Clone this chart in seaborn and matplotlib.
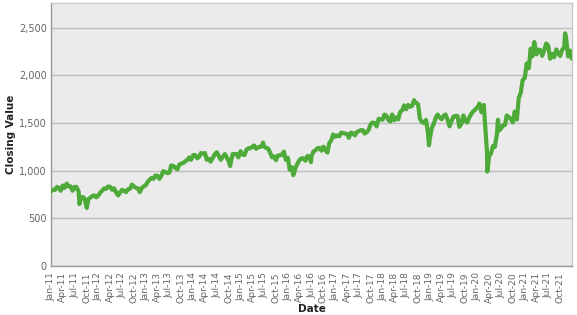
import numpy as np
import pandas as pd
import matplotlib
matplotlib.use("Agg")
import matplotlib.pyplot as plt
import matplotlib.dates as mdates
import matplotlib.ticker as mticker
import seaborn as sns

# Semi-monthly readings (1st and 15th of each month), Jan 2011 - Dec 2021
grid_start = "2011-01-01"
grid_end = "2021-12-15"
grid_values = [
    # 2011
    784, 800, 800, 830, 820, 790, 845, 820, 865, 835, 835, 790,
    830, 830, 780, 700, 725, 710, 620, 700, 720, 735, 740, 720,
    # 2012
    741, 770, 795, 815, 810, 835, 830, 800, 815, 775, 740, 770,
    800, 790, 775, 805, 810, 855, 835, 820, 815, 775, 820, 835,
    # 2013
    849, 885, 910, 925, 915, 950, 945, 915, 950, 995, 985, 975,
    980, 1055, 1050, 1030, 1015, 1065, 1075, 1080, 1100, 1110, 1140, 1115,
    # 2014
    1164, 1165, 1130, 1145, 1185, 1180, 1185, 1115, 1125, 1095, 1135, 1170,
    1195, 1160, 1115, 1140, 1175, 1145, 1100, 1070, 1175, 1175, 1175, 1140,
    # 2015
    1205, 1170, 1165, 1220, 1235, 1235, 1250, 1265, 1230, 1245, 1250, 1260,
    1255, 1240, 1235, 1195, 1140, 1150, 1110, 1160, 1162, 1165, 1200, 1115,
    # 2016
    1136, 1010, 1035, 965, 1035, 1075, 1115, 1130, 1130, 1105, 1155, 1145,
    1150, 1200, 1215, 1235, 1240, 1210, 1252, 1215, 1190, 1290, 1320, 1380,
    # 2017
    1357, 1370, 1362, 1400, 1395, 1390, 1385, 1345, 1400, 1395, 1370, 1405,
    1415, 1425, 1425, 1390, 1405, 1430, 1490, 1505, 1500, 1465, 1545, 1540,
    # 2018
    1536, 1590, 1575, 1530, 1515, 1590, 1530, 1560, 1540, 1615, 1635, 1685,
    1645, 1690, 1670, 1680, 1720, 1715, 1696, 1545, 1510, 1500, 1533, 1410,
    # 2019
    1349, 1450, 1500, 1560, 1590, 1560, 1540, 1575, 1590, 1540, 1466, 1520,
    1567, 1575, 1575, 1460, 1495, 1580, 1523, 1505, 1562, 1595, 1624, 1640,
    # 2020
    1668, 1690, 1614, 1685, 1476, 1210, 1153, 1180, 1260, 1250, 1394, 1420,
    1441, 1475, 1480, 1580, 1561, 1545, 1507, 1620, 1538, 1760, 1820, 1950,
    # 2021
    1975, 2125, 2075, 2280, 2201, 2350, 2221, 2270, 2266, 2205, 2269, 2335,
    2311, 2175, 2226, 2190, 2273, 2230, 2204, 2265, 2297, 2400, 2199, 2260,
]

# Extra readings at notable highs and lows
extra_dates = [
    "2011-08-08", "2011-10-03", "2014-10-13", "2015-06-23", "2016-02-11",
    "2016-06-27", "2018-08-31", "2018-12-24", "2020-01-16", "2020-02-20",
    "2020-03-18", "2020-06-08", "2021-11-08", "2021-12-30",
]
extra_values = [
    650, 609, 1049, 1296, 953,
    1090, 1740, 1267, 1705, 1690,
    991, 1535, 2442, 2175,
]

grid_dates = pd.date_range(grid_start, grid_end, freq="SMS")
df = pd.DataFrame({
    "Date": list(grid_dates) + list(pd.to_datetime(extra_dates)),
    "Close": grid_values + extra_values,
}).sort_values("Date").reset_index(drop=True)

sns.set_style("white")
plt.rcParams["font.family"] = ["DejaVu Sans"]

fig = plt.figure(figsize=(5.77, 3.15), dpi=100)
ax = fig.add_axes([51 / 577, 1 - 266 / 315, (572 - 51) / 577, (266 - 3) / 315])
ax.set_facecolor("#ebebeb")

sns.lineplot(data=df, x="Date", y="Close", ax=ax, color="#4eab3a",
             linewidth=3.0, zorder=3)

ax.set_xlim(pd.Timestamp("2010-12-31"), pd.Timestamp("2021-12-31"))
ax.set_ylim(0, 2760)
ax.yaxis.set_major_locator(mticker.MultipleLocator(500))
ax.yaxis.set_major_formatter(mticker.FuncFormatter(lambda v, p: f"{int(v):,}"))
ax.xaxis.set_major_locator(mdates.MonthLocator(bymonth=[1, 4, 7, 10]))
ax.xaxis.set_major_formatter(mdates.DateFormatter("%b-%y"))

ax.grid(axis="y", color="#bdbdbd", linewidth=1.0, zorder=1)
ax.grid(axis="x", visible=False)
for s in ax.spines.values():
    s.set_color("#c8c8c8")
    s.set_linewidth(1.0)
ax.spines["left"].set_color("#999999")
ax.spines["bottom"].set_color("#999999")

ax.tick_params(axis="x", labelrotation=90, labelsize=6.6, colors="#666666",
               length=3, width=0.8, pad=1.5)
ax.tick_params(axis="y", labelsize=7, colors="#666666", length=0, pad=3)
for lbl in ax.get_xticklabels() + ax.get_yticklabels():
    lbl.set_color("#666666")

ax.set_xlabel("Date", fontsize=7.5, fontweight="bold", color="#222222", labelpad=1)
ax.set_ylabel("Closing Value", fontsize=7.5, fontweight="bold", color="#222222", labelpad=2)

fig.savefig("out.png", dpi=100, facecolor="white")
